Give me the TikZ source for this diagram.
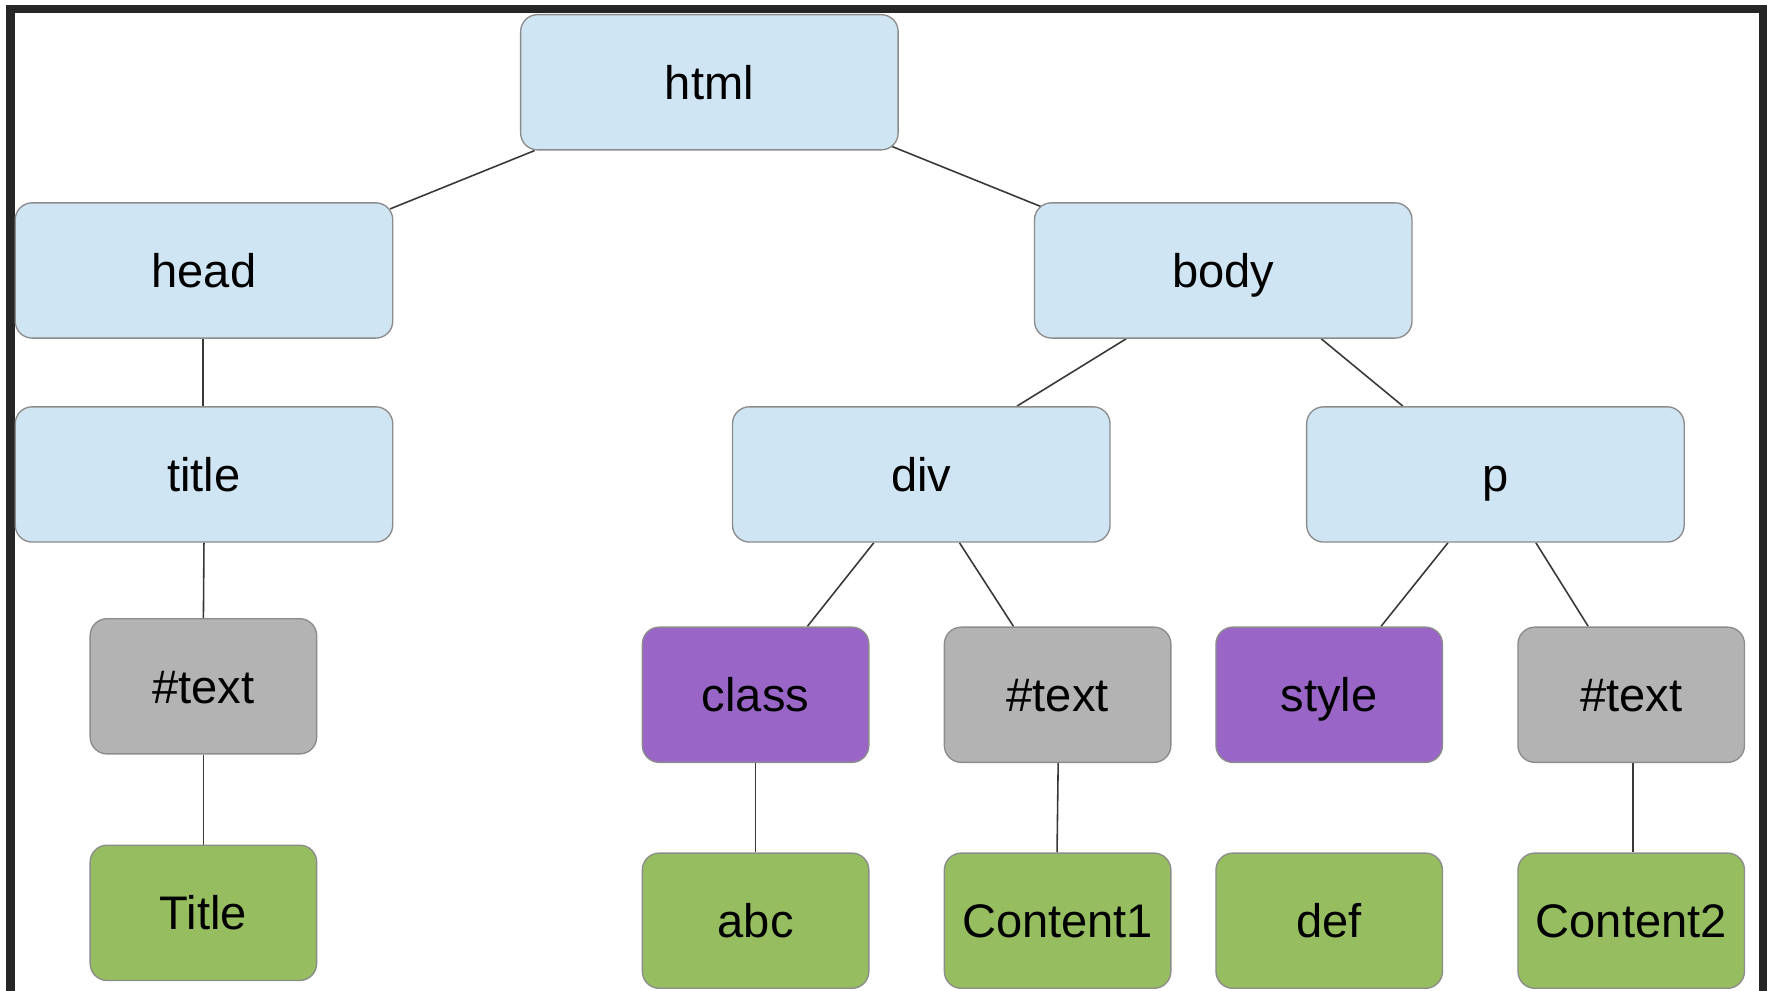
\documentclass[tikz,border=0pt]{standalone}
\usepackage{fontspec}
\setmainfont{Liberation Sans}
\usetikzlibrary{calc,backgrounds}
\definecolor{elemfill}{HTML}{CFE5F3}
\definecolor{attrfill}{HTML}{9966C8}
\definecolor{txtfill}{HTML}{B3B3B3}
\definecolor{valfill}{HTML}{96BD5F}
\definecolor{boxline}{HTML}{8C8C8C}
\definecolor{linkcol}{HTML}{383838}
\definecolor{framecol}{HTML}{262626}
\begin{document}
\begin{tikzpicture}[x=0.5pt,y=-0.5pt,
  box/.style={draw=boxline, line width=0.6pt, rounded corners=7.5pt, inner sep=0pt,
    text height=15pt, text depth=0pt,
    font=\fontsize{20.9}{25}\selectfont, text=black},
  elem/.style={box, fill=elemfill, minimum width=167.5pt, minimum height=60pt},
  leaf/.style={box, minimum width=100.5pt, minimum height=60pt},
  attr/.style={leaf, fill=attrfill},
  txt/.style={leaf, fill=txtfill},
  val/.style={leaf, fill=valfill},
  link/.style={draw=linkcol, line width=0.7pt}]

\path[use as bounding box] (0,0) rectangle (1568,879);

% element nodes
\node[elem] (html)  at (629.5,73)  {html};
\node[elem] (head)  at (181,240)   {head};
\node[elem] (body)  at (1085.5,240){body};
\node[elem] (title) at (181,421)   {title};
\node[elem] (div)   at (817.5,421) {div};
\node[elem] (p)     at (1327,421)  {p};

% attribute and text nodes
\node[txt]  (t1)    at (180.5,609)   {\#text};
\node[attr] (class) at (670.5,616.5) {class};
\node[txt]  (t2)    at (938.5,616.5) {\#text};
\node[attr] (style) at (1179.5,616.5){style};
\node[txt]  (t3)    at (1447.5,616.5){\#text};

% value nodes
\node[val] (vtitle) at (180.5,810)  {Title};
\node[val] (vabc)   at (670.5,817)  {abc};
\node[val] (vc1)    at (938.5,817)  {Content1};
\node[val] (vdef)   at (1179.5,817) {def};
\node[val] (vc2)    at (1447.5,817) {Content2};

\begin{scope}[on background layer]
% page and frame
\fill[white] (0,0) rectangle (1568,879);
\fill[framecol] (5,4.4) rectangle (1568,11.3);
\fill[framecol] (5,4.4) rectangle (12.9,879);
\fill[framecol] (1561,4.4) rectangle (1568,879);

% connectors, tucked under the boxes
\draw[link] ($(html.south west)+(13,0)$) -- ($(head.north east)+(-3,6)$);
\draw[link] ($(html.south east)+(-7,-4)$) -- ($(body.north west)+(9,5)$);
\draw[link] ($(head.south)+(-1,0)$) -- ($(title.north)+(-1,0)$);
\draw[link] ($(body.south west)+(82,0)$) -- ($(div.north west)+(253,0)$);
\draw[link] ($(body.south west)+(255,0)$) -- ($(p.north west)+(86,0)$);
\draw[link] (title.south) -- (t1.north);
\draw[link] (t1.south) -- (vtitle.north);
\draw[link] ($(div.south west)+(126,0)$) -- ($(class.north west)+(147,0)$);
\draw[link] ($(div.south west)+(202,0)$) -- ($(t2.north west)+(62,0)$);
\draw[link] ($(p.south west)+(126,0)$) -- ($(style.north west)+(147,0)$);
\draw[link] ($(p.south west)+(204,0)$) -- ($(t3.north west)+(63,0)$);
\draw[link] (class.south) -- (vabc.north);
\draw[link] ($(t2.south)+(0.5,0)$) -- ($(vc1.north)+(-0.5,0)$);
\draw[link] ($(t3.south)+(1.5,0)$) -- ($(vc2.north)+(1.5,0)$);
\end{scope}
\end{tikzpicture}
\end{document}
